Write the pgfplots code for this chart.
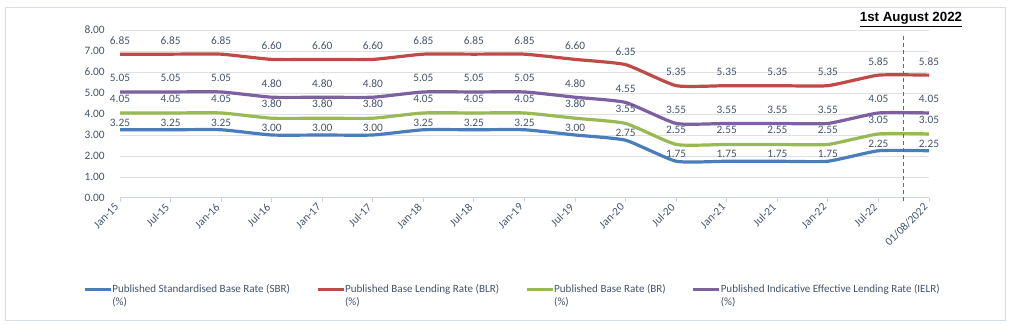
\documentclass[border=0pt]{standalone}
\usepackage{pgfplots}
\pgfplotsset{compat=1.18}
\usepackage{fontspec}
\setmainfont{Carlito}
\newfontfamily\titlefont{Liberation Sans}
\definecolor{sbr}{RGB}{74,126,187}
\definecolor{blr}{RGB}{190,75,72}
\definecolor{br}{RGB}{152,185,84}
\definecolor{ielr}{RGB}{125,96,160}
\definecolor{txt}{RGB}{68,84,106}
\definecolor{gridc}{RGB}{222,224,228}
\definecolor{axc}{RGB}{205,212,224}
\definecolor{framec}{RGB}{214,222,232}
\definecolor{dashc}{RGB}{70,110,160}
\pgfplotsset{
  lbl/.style={nodes near coords={\pgfmathprintnumber[fixed,fixed zerofill,precision=2]{\pgfplotspointmeta}},
    every node near coord/.append style={font=\fontsize{8.5}{10}\selectfont, text=txt, anchor=center, yshift=#1}},
  ser/.style={#1, line width=2.4pt, smooth, tension=0.3},
}
\begin{document}
\begin{tikzpicture}[x=0.75pt,y=0.75pt]
\path[use as bounding box] (0,0) rectangle (1011,325);
\draw[framec, line width=0.75pt] (5,4) rectangle (1005,317);
\begin{axis}[
  at={(90pt,95.25pt)}, anchor=south west,
  scale only axis, width=606.75pt, height=126pt,
  xmin=0, xmax=16, ymin=0, ymax=8,
  xtick={0,...,16},
  xticklabels={Jan-15,Jul-15,Jan-16,Jul-16,Jan-17,Jul-17,Jan-18,Jul-18,Jan-19,Jul-19,Jan-20,Jul-20,Jan-21,Jul-21,Jan-22,Jul-22,01/08/2022},
  ytick={0,...,8},
  yticklabel={\pgfmathprintnumber[fixed,fixed zerofill,precision=2]{\tick}},
  ymajorgrids, grid style={gridc, line width=0.75pt},
  axis x line*=bottom, axis y line*=left,
  y axis line style={draw=none},
  x axis line style={axc, line width=0.75pt},
  xtick style={axc, line width=0.75pt}, tick align=outside, major tick length=3pt,
  ytick style={draw=none},
  /pgf/number format/assume math mode=true,
  tick label style={font=\fontsize{8.5}{10}\selectfont, text=txt},
  yticklabel style={xshift=-5pt},
  xticklabel style={rotate=45, anchor=east},
  clip=false,
  legend columns=4,
  legend cell align=left,
  legend style={at={(-0.0457,-0.542)}, anchor=west, draw=none, fill=none,
    font=\fontsize{8.3}{9.75}\selectfont, text=txt, inner sep=0pt,
    nodes={inner sep=0pt},
    /tikz/every even column/.append style={column sep=19.5pt}},
  legend image code/.code={\draw[#1, line width=2.25pt] (0pt,0pt) -- (19.5pt,0pt);},
]
\addplot[ser=sbr, lbl=5.3pt] coordinates {(0,3.25)(1,3.25)(2,3.25)(3,3.00)(4,3.00)(5,3.00)(6,3.25)(7,3.25)(8,3.25)(9,3.00)(10,2.75)(11,1.75)(12,1.75)(13,1.75)(14,1.75)(15,2.25)(16,2.25)};
\addlegendentry{\begin{tabular}[t]{@{}l@{}}Published Standardised Base Rate (SBR)\\(\%)\end{tabular}}
\addplot[ser=blr, lbl=10pt] coordinates {(0,6.85)(1,6.85)(2,6.85)(3,6.60)(4,6.60)(5,6.60)(6,6.85)(7,6.85)(8,6.85)(9,6.60)(10,6.35)(11,5.35)(12,5.35)(13,5.35)(14,5.35)(15,5.85)(16,5.85)};
\addlegendentry{\begin{tabular}[t]{@{}l@{}}Published Base Lending Rate (BLR)\\(\%)\end{tabular}}
\addplot[ser=br, lbl=10.8pt] coordinates {(0,4.05)(1,4.05)(2,4.05)(3,3.80)(4,3.80)(5,3.80)(6,4.05)(7,4.05)(8,4.05)(9,3.80)(10,3.55)(11,2.55)(12,2.55)(13,2.55)(14,2.55)(15,3.05)(16,3.05)};
\addlegendentry{\begin{tabular}[t]{@{}l@{}}Published Base Rate (BR)\\(\%)\end{tabular}}
\addplot[ser=ielr, lbl=10.3pt] coordinates {(0,5.05)(1,5.05)(2,5.05)(3,4.80)(4,4.80)(5,4.80)(6,5.05)(7,5.05)(8,5.05)(9,4.80)(10,4.55)(11,3.55)(12,3.55)(13,3.55)(14,3.55)(15,4.05)(16,4.05)};
\addlegendentry{\begin{tabular}[t]{@{}l@{}}Published Indicative Effective Lending Rate (IELR)\\(\%)\end{tabular}}
\addplot[dashc, line width=0.75pt, dash pattern=on 3pt off 2.25pt, forget plot] coordinates {(15.5,-0.15)(15.5,7.75)};
\end{axis}
\node[font=\titlefont\bfseries\fontsize{10}{12}\selectfont, text=black] at (911,305) {\underline{1st August 2022}};
\end{tikzpicture}
\end{document}
